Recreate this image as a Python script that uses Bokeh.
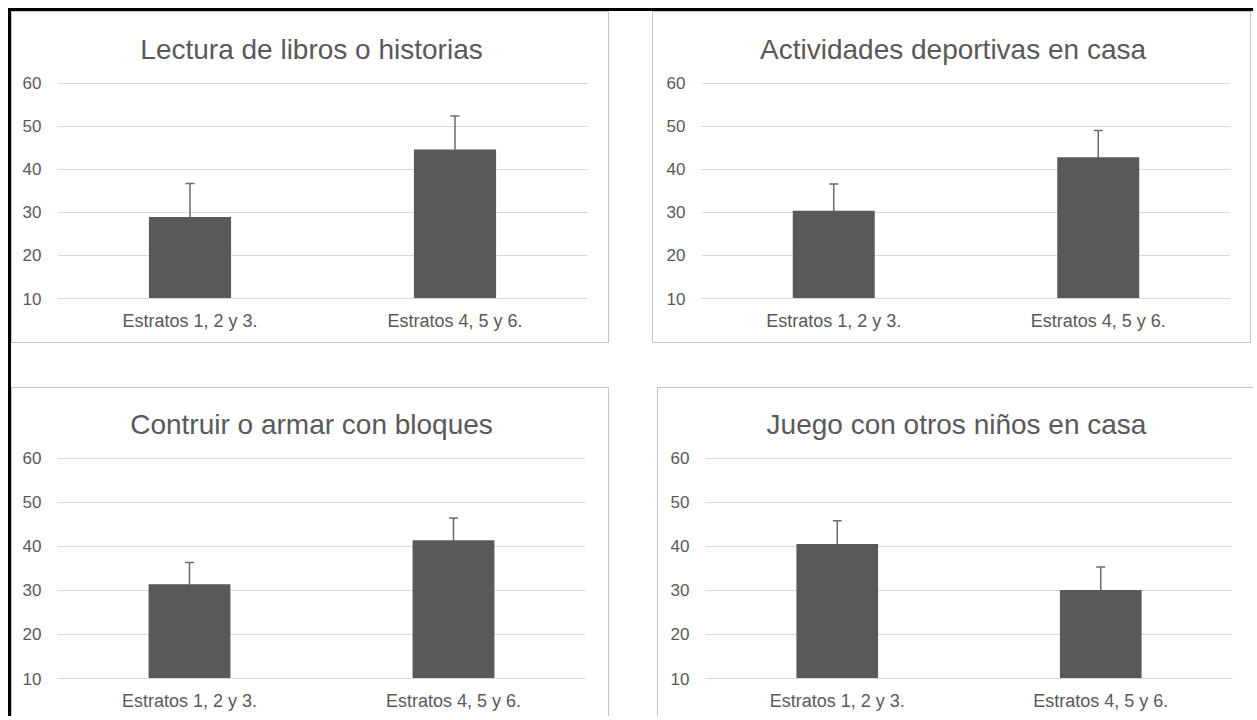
from bokeh.plotting import figure
from bokeh.layouts import column, row
from bokeh.models import ColumnDataSource, Whisker, TeeHead, Range1d, FixedTicker, FactorRange
from bokeh.embed import file_html
from bokeh.resources import INLINE

# ---- data ----
categories = ["Estratos 1, 2 y 3.", "Estratos 4, 5 y 6."]
titles = [
    "Lectura de libros o historias",
    "Actividades deportivas en casa",
    "Contruir o armar con bloques",
    "Juego con otros niños en casa",
]
lectura = [28.9, 44.6]
lectura_err = [7.8, 7.8]
deportivas = [30.4, 42.8]
deportivas_err = [6.2, 6.2]
bloques = [31.4, 41.4]
bloques_err = [4.9, 5.0]
juego = [40.5, 30.1]
juego_err = [5.3, 5.2]
y_ticks = [10, 20, 30, 40, 50, 60]
Y_MIN, Y_MAX = 10, 60

FONT = "Liberation Sans"
TXT = "#595959"
BAR = "#595959"
ERR = "#6a6a6a"
GRID = "#d9d9d9"
PANEL_BORDER = "#c4c4c4"
TITLE_PX = 28

# approximate Arial/Liberation Sans advance widths (em/1000) used to centre titles on the panel
_W = {" ": 278, "L": 556, "A": 667, "C": 722, "J": 500, "a": 556, "b": 556, "c": 500, "d": 556,
      "e": 556, "g": 556, "h": 556, "i": 222, "l": 222, "m": 833, "n": 556, "ñ": 556, "o": 556,
      "p": 556, "q": 556, "r": 333, "s": 500, "t": 278, "u": 556, "v": 500}


def text_width(t, px):
    return sum(_W.get(ch, 556) for ch in t) / 1000 * px


def make_panel(title, vals, errs, width, height, mbl, mbr, mbt, mbb, styles, margin):
    src = ColumnDataSource(dict(
        cat=categories,
        val=vals,
        upper=[v + e for v, e in zip(vals, errs)],
        lower=[v - e for v, e in zip(vals, errs)],
    ))
    p = figure(
        x_range=FactorRange(*categories),
        y_range=Range1d(Y_MIN, Y_MAX + 0.15),
        width=width, height=height,
        output_backend="svg", toolbar_location=None,
        min_border_left=mbl, min_border_right=mbr,
        min_border_top=mbt, min_border_bottom=mbb,
        styles=styles, margin=margin,
    )
    p.title.text = title
    p.title.align = "left"
    p.title.offset = width / 2 - mbl - text_width(title, TITLE_PX) / 2
    p.title.vertical_align = "top"
    p.title.text_font = FONT
    p.title.text_font_size = f"{TITLE_PX}px"
    p.title.text_font_style = "normal"
    p.title.text_color = TXT
    p.title.standoff = 32

    p.vbar(x="cat", top="val", bottom=Y_MIN, width=0.31, source=src,
           fill_color=BAR, line_color=None)
    w = Whisker(base="cat", upper="upper", lower="lower", source=src,
                line_color=ERR, line_width=1.5,
                upper_head=TeeHead(size=9, line_color=ERR, line_width=1.5),
                lower_head=TeeHead(size=9, line_color=ERR, line_width=1.5))
    p.add_layout(w)

    p.outline_line_color = None
    p.background_fill_color = "white"
    p.border_fill_color = "white"
    p.xgrid.grid_line_color = None
    p.ygrid.grid_line_color = GRID
    p.ygrid.grid_line_width = 1.2
    p.yaxis.ticker = FixedTicker(ticks=y_ticks)

    p.yaxis.axis_line_color = None
    p.yaxis.major_tick_line_color = None
    p.yaxis.minor_tick_line_color = None
    p.yaxis.major_tick_out = 0
    p.yaxis.major_tick_in = 0
    p.yaxis.minor_tick_out = 0
    p.yaxis.major_label_standoff = 16
    p.yaxis.major_label_text_font = FONT
    p.yaxis.major_label_text_font_size = "17px"
    p.yaxis.major_label_text_color = TXT

    p.xaxis.axis_line_color = GRID
    p.xaxis.axis_line_width = 1.2
    p.xaxis.major_tick_line_color = None
    p.xaxis.minor_tick_line_color = None
    p.xaxis.major_tick_out = 0
    p.xaxis.major_tick_in = 0
    p.xaxis.major_label_standoff = 12
    p.xaxis.major_label_text_font = FONT
    p.xaxis.major_label_text_font_size = "18px"
    p.xaxis.major_label_text_color = TXT
    return p


full = {"border": f"1px solid {PANEL_BORDER}"}
p1 = make_panel(titles[0], lectura, lectura_err, 598, 332, 45, 23, 70, 46, full, (0, 0, 0, 0))
p2 = make_panel(titles[1], deportivas, deportivas_err, 599, 332, 48, 22, 70, 46, full, (0, 0, 0, 43))
p3 = make_panel(titles[2], bloques, bloques_err, 598, 329, 45, 25, 69, 39,
                {"border-top": f"1px solid {PANEL_BORDER}", "border-left": f"1px solid {PANEL_BORDER}",
                 "border-right": f"1px solid {PANEL_BORDER}"}, (44, 0, 0, 0))
p4 = make_panel(titles[3], juego, juego_err, 596, 329, 47, 22, 69, 39,
                {"border-top": f"1px solid {PANEL_BORDER}", "border-left": f"1px solid {PANEL_BORDER}"},
                (44, 0, 0, 48))

layout = column(
    row(p1, p2),
    row(p3, p4),
    margin=(8, 0, 0, 8),
    styles={"border-top": "3px solid black", "border-left": "3px solid black"},
)

open("out.html", "w").write(file_html(layout, INLINE))
